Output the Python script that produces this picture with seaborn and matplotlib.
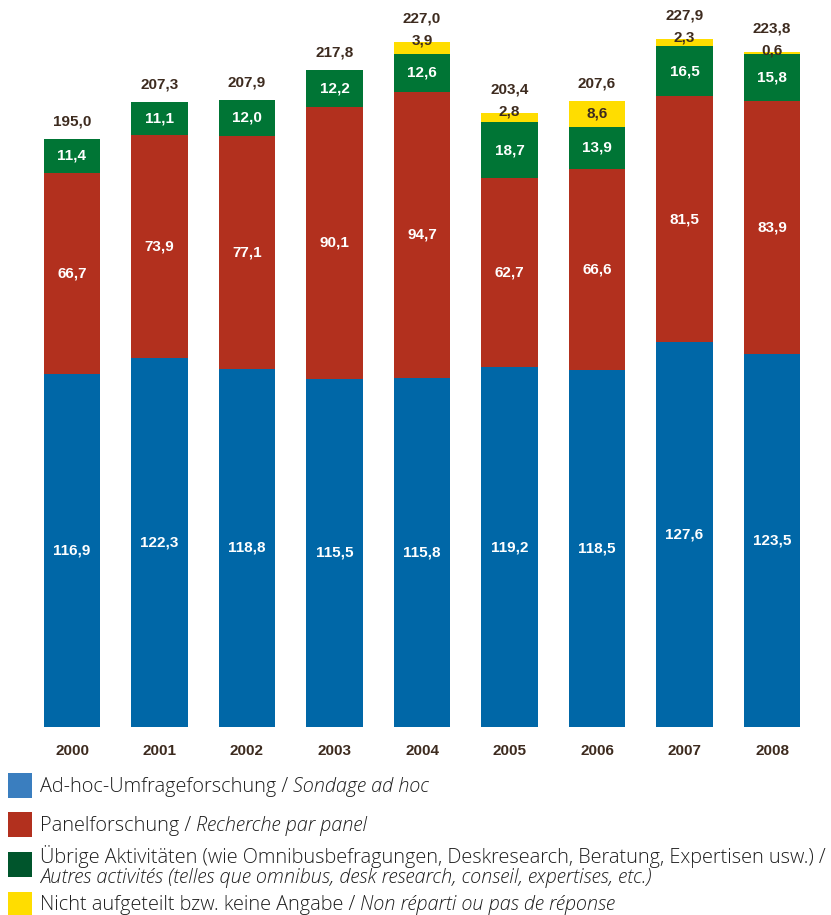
import matplotlib
matplotlib.use("Agg")
import matplotlib.pyplot as plt
import matplotlib.patches as mpatches
import numpy as np
import pandas as pd
import seaborn as sns

years = ["2000", "2001", "2002", "2003", "2004", "2005", "2006", "2007", "2008"]
adhoc = [116.9, 122.3, 118.8, 115.5, 115.8, 119.2, 118.5, 127.6, 123.5]
panel = [66.7, 73.9, 77.1, 90.1, 94.7, 62.7, 66.6, 81.5, 83.9]
other = [11.4, 11.1, 12.0, 12.2, 12.6, 18.7, 13.9, 16.5, 15.8]
unassigned = [0.0, 0.0, 0.0, 0.0, 3.9, 2.8, 8.6, 2.3, 0.6]
totals = [195.0, 207.3, 207.9, 217.8, 227.0, 203.4, 207.6, 227.9, 223.8]

legend_de = ["Ad-hoc-Umfrageforschung / ",
             "Panelforschung / ",
             "Übrige Aktivitäten (wie Omnibusbefragungen, Deskresearch, Beratung, Expertisen usw.) /",
             "Nicht aufgeteilt bzw. keine Angabe / "]
legend_fr = ["Sondage ad hoc",
             "Recherche par panel",
             "Autres activités (telles que omnibus, desk research, conseil, expertises, etc.)",
             "Non réparti ou pas de réponse"]

C_BLUE = "#0067A7"
C_RED = "#B2301E"
C_GREEN = "#007535"
C_YELLOW = "#FFDD00"
L_BLUE = "#3A7EBF"
L_GREEN = "#00552C"
TXT = "#3D2B1F"

sns.set_theme(style="white")
plt.rcParams["font.family"] = ["Liberation Sans", "DejaVu Sans"]

df = pd.DataFrame({"year": years, "adhoc": adhoc, "panel": panel,
                   "other": other, "unassigned": unassigned})
df["c1"] = df["adhoc"]
df["c2"] = df["c1"] + df["panel"]
df["c3"] = df["c2"] + df["other"]
df["c4"] = df["c3"] + df["unassigned"]

fig = plt.figure(figsize=(8.31, 9.15), dpi=100)
ax = fig.add_axes([28.25 / 831, 188 / 915, 787.5 / 831, 715 / 915])

for col, color in [("c4", C_YELLOW), ("c3", C_GREEN), ("c2", C_RED), ("c1", C_BLUE)]:
    sns.barplot(data=df, x="year", y=col, order=years, color=color,
                saturation=1, width=0.65, ax=ax, linewidth=0, errorbar=None)

ax.set_xlim(-0.5, 8.5)
ax.set_ylim(0, 237)
sns.despine(ax=ax, left=True, bottom=True)
ax.set_yticks([])
ax.set_xlabel("")
ax.set_ylabel("")
ax.tick_params(axis="x", length=0, pad=12)
for lab in ax.get_xticklabels():
    lab.set_fontweight("bold")
    lab.set_fontsize(11)
    lab.set_color(TXT)

lab_kw = dict(ha="center", va="center", fontsize=11, fontweight="bold")
for i in range(len(years)):
    c1, c2, c3, c4 = df.loc[i, ["c1", "c2", "c3", "c4"]]
    fmt = lambda v: f"{v:.1f}".replace(".", ",")
    ax.text(i, c1 / 2, fmt(adhoc[i]), color="white", **lab_kw)
    ax.text(i, (c1 + c2) / 2, fmt(panel[i]), color="white", **lab_kw)
    ax.text(i, (c2 + c3) / 2, fmt(other[i]), color="white", **lab_kw)
    top_label = c4 + 5.8
    if unassigned[i] > 0:
        if unassigned[i] > 5:
            ax.text(i, (c3 + c4) / 2, fmt(unassigned[i]), color=TXT, **lab_kw)
        else:
            ax.text(i, c4 + 0.6, fmt(unassigned[i]), color=TXT, **lab_kw)
            top_label = c4 + 7.8
    ax.text(i, top_label, fmt(totals[i]), color=TXT, **lab_kw)

# legend
renderer = fig.canvas.get_renderer()
lcolors = [L_BLUE, C_RED, L_GREEN, C_YELLOW]
patch_tops = [773, 812, 852, 892]
text_centers = [787, 826, 857, 905]
lfont = dict(fontsize=14.3, color="#1E1E1E", family=["Open Sans", "DejaVu Sans"], fontweight="light")
for k in range(4):
    fig.patches.append(mpatches.Rectangle((8 / 831, 1 - (patch_tops[k] + 25) / 915), 24 / 831, 25 / 915,
                                          transform=fig.transFigure, color=lcolors[k], linewidth=0))
    y = 1 - text_centers[k] / 915
    t = fig.text(40 / 831, y, legend_de[k], va="center", ha="left", **lfont)
    if k == 2:
        fig.text(40 / 831, 1 - 878 / 915, legend_fr[k], va="center", ha="left", style="italic", **lfont)
    else:
        bb = t.get_window_extent(renderer=renderer)
        fig.text(bb.x1 / fig.bbox.width, y, legend_fr[k], va="center", ha="left", style="italic", **lfont)

fig.savefig("out.png", dpi=100)
